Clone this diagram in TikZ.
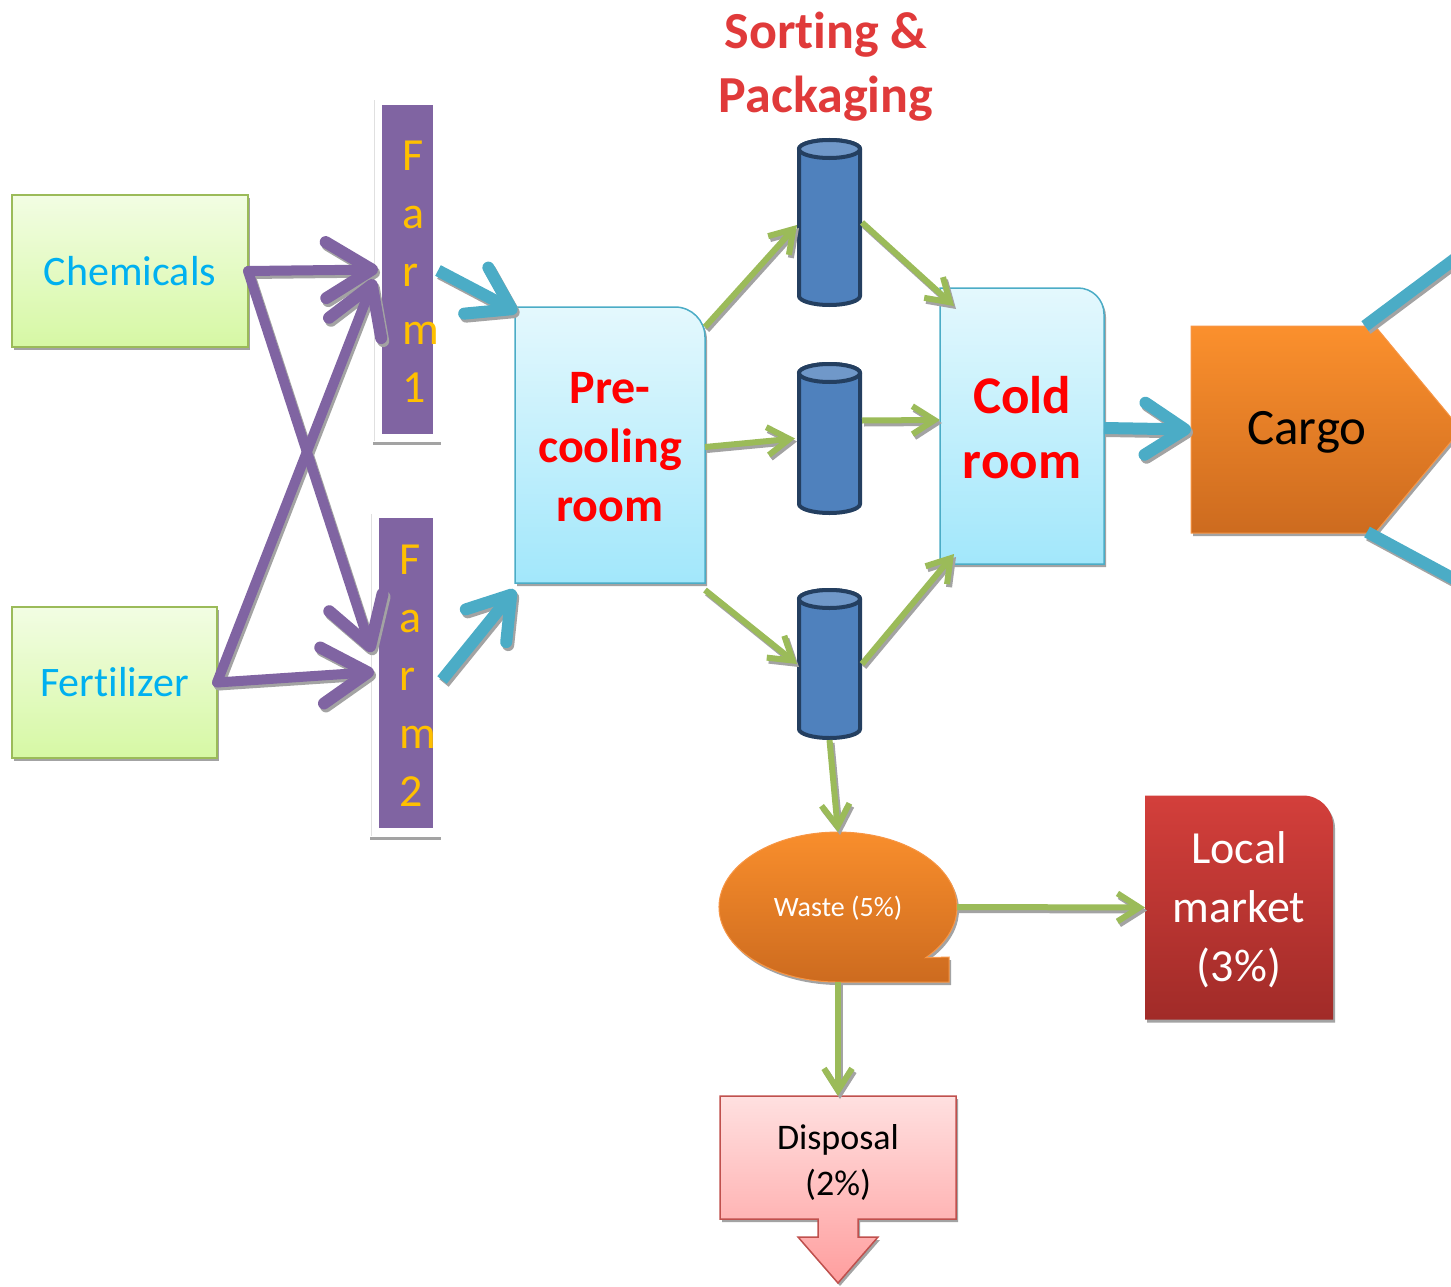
\documentclass[tikz,border=0pt]{standalone}
\usepackage{fontspec}
\setmainfont{Carlito}[Ligatures=NoCommon]
\usetikzlibrary{arrows.meta,shapes.geometric,shadows,calc}

\definecolor{purp}{HTML}{8064A2}
\definecolor{tealc}{HTML}{4BACC6}
\definecolor{grn}{HTML}{9BBB59}
\definecolor{cyantext}{HTML}{00B0F0}
\definecolor{gold}{HTML}{FFC000}
\definecolor{cylfill}{HTML}{4F81BD}
\definecolor{cyltop}{HTML}{7098C9}
\definecolor{cyledge}{HTML}{243F60}
\definecolor{shadowgray}{HTML}{A3A3A3}
\definecolor{titlered}{HTML}{E03A3A}
\definecolor{greentop}{HTML}{F2FDE3}
\definecolor{greenbot}{HTML}{D6F8A4}
\definecolor{icetop}{HTML}{E4F8FD}
\definecolor{icebot}{HTML}{A2E7FB}
\definecolor{orangetop}{HTML}{FB902D}
\definecolor{orangebot}{HTML}{CD6B1F}
\definecolor{orangeedge}{HTML}{F79646}
\definecolor{redtop}{HTML}{D33F3B}
\definecolor{redbot}{HTML}{A12B28}
\definecolor{pinktop}{HTML}{FFE0E0}
\definecolor{pinkbot}{HTML}{FF9E9E}
\definecolor{rededge}{HTML}{C0504D}

\tikzset{
  boxshadow/.style={drop shadow={shadow xshift=2pt,shadow yshift=-3pt,fill=shadowgray,opacity=1}},
  shadowcopy/.style={draw=shadowgray,transform canvas={shift={(2pt,-3pt)}}},
  purplearrow/.style={draw=purp,line width=10pt,line cap=round,
    -{Straight Barb[length=46pt,width=56pt,line width=12pt,round]}},
  tealarrow/.style={draw=tealc,line width=12pt,
    -{Straight Barb[length=40pt,width=52pt,line width=12pt,round]}},
  tealline/.style={draw=tealc,line width=12pt},
  greenarrow/.style={draw=grn,line width=6pt,
    -{Straight Barb[length=22pt,width=28pt,line width=6pt]}},
  area/.style={inner sep=0pt,outer sep=0pt,draw=none},
  cylpart/.style={draw=cyledge,line width=4pt},
}

% body and lid of a storage cylinder drawn inside node #1
\newcommand\cylbody[1]{%
  \draw[cylpart,fill=cylfill]
    ($(#1.north west)+(2pt,-11pt)$) -- ($(#1.south west)+(2pt,11pt)$)
    arc[start angle=180,end angle=360,x radius=30.5pt,y radius=9pt]
    -- ($(#1.north east)+(-2pt,-11pt)$)
    arc[start angle=0,end angle=180,x radius=30.5pt,y radius=9pt] -- cycle;
  \draw[cylpart,fill=cyltop] ($(#1.north)+(0pt,-11pt)$)
    ellipse[x radius=30.5pt,y radius=9pt];
}

% every connector; #1 is added to each, so the set can be drawn once as shadow
\newcommand\connectors[1]{%
  \draw[purplearrow,#1] (chem.east) -- ([shift={(-7pt,21pt)}]farm2.west);
  \draw[purplearrow,#1] (fert.east) -- ([shift={(-8pt,-10pt)}]farm1.west);
  \draw[purplearrow,#1] (chem.east) -- ([xshift=-4pt]farm1.west);
  \draw[purplearrow,#1] (fert.east) -- ([shift={(-5pt,1pt)}]farm2.west);
  \draw[tealarrow,#1] ([shift={(5pt,-1pt)}]farm1.east) -- ([shift={(2pt,-5pt)}]pre.north west);
  \draw[tealarrow,#1] ([shift={(9pt,-7pt)}]farm2.east) -- ([yshift=-7pt]pre.south west);
  \draw[tealarrow,#1] ([yshift=-2pt]cold.east) -- (cargo.west);
  \draw[tealline,#1] ([xshift=-58pt]cargo.north east) -- (upout);
  \draw[tealline,#1] ([xshift=-56pt,yshift=1pt]cargo.south east) -- (downout);
  \draw[greenarrow,#1] ([yshift=-20pt]pre.north east) -- ([yshift=-2.5pt]cyl1.west);
  \draw[greenarrow,#1] ([yshift=-2pt]pre.east) -- ([xshift=-2pt]cyl2.west);
  \draw[greenarrow,#1] ([yshift=-7pt]pre.south east) -- (cyl3.west);
  \draw[greenarrow,#1] (cyl1.east) -- ([shift={(14pt,-18pt)}]cold.north west);
  \draw[greenarrow,#1] ([yshift=18pt]cyl2.east) -- ([yshift=6pt]cold.west);
  \draw[greenarrow,#1] (cyl3.east) -- ([shift={(14pt,10pt)}]cold.south west);
  \draw[greenarrow,#1] (cyl3.south) -- (waste.north);
  \draw[greenarrow,#1] (waste.east) -- (local.west);
  \draw[greenarrow,#1] (waste.south) -- (disp.north);
}

\begin{document}
\begin{tikzpicture}[x=1pt,y=1pt]
\useasboundingbox (0,0) rectangle (1451,-1287);
\clip (0,0) rectangle (1451,-1287);

% ---------- inputs ----------
\node[area,draw=grn,line width=1.5pt,top color=greentop,bottom color=greenbot,boxshadow,
  minimum width=236pt,minimum height=152pt,text=cyantext,font=\fontsize{42}{50}\selectfont]
  (chem) at (130,-271) {Chemicals};
\node[area,draw=grn,line width=1.5pt,top color=greentop,bottom color=greenbot,boxshadow,
  minimum width=205pt,minimum height=151pt,text=cyantext,font=\fontsize{42}{50}\selectfont]
  (fert) at (114.5,-682.5) {Fertilizer};

% ---------- farms ----------
\draw[black!12,line width=1pt] (374,-100) -- (374,-441);
\draw[shadowgray,line width=3pt] (373,-443) -- (441,-443);
\draw[black!12,line width=1pt] (371,-514) -- (371,-836);
\draw[shadowgray,line width=3pt] (370,-838) -- (441,-838);

\node[area,fill=purp,minimum width=51pt,minimum height=329pt] (farm1) at (407.5,-269.5) {};
\node[area,fill=purp,minimum width=54pt,minimum height=310pt] (farm2) at (406,-673) {};
\node[inner sep=0pt,anchor=west,align=left,text=gold,font=\fontsize{46}{58}\selectfont]
  (farm1txt) at (402,-272) {F\\a\\r\\m\\1};
\node[inner sep=0pt,anchor=west,align=left,text=gold,font=\fontsize{46}{58}\selectfont]
  (farm2txt) at (399,-676) {F\\a\\r\\m\\2};

% ---------- rooms ----------
\node[area,minimum width=190pt,minimum height=276pt] (pre) at (610,-445) {};
\path[draw=tealc,line width=1.5pt,top color=icetop,bottom color=icebot,boxshadow]
  (pre.south west) -- (pre.north west) -- ([xshift=-30pt]pre.north east)
  arc[start angle=90,end angle=0,radius=30pt] -- (pre.south east) -- cycle;
\node[align=center,text=red,font=\bfseries\fontsize{48}{59}\selectfont]
  (pretxt) at (610,-447) {Pre-\\cooling\\room};

\node[area,minimum width=164pt,minimum height=276pt] (cold) at (1022,-426) {};
\path[draw=tealc,line width=1.5pt,top color=icetop,bottom color=icebot,boxshadow]
  (cold.south west) -- (cold.north west) -- ([xshift=-26pt]cold.north east)
  arc[start angle=90,end angle=0,radius=26pt] -- (cold.south east) -- cycle;
\node[align=center,text=red,font=\bfseries\fontsize{53}{65}\selectfont]
  (coldtxt) at (1022,-428) {Cold\\room};

% ---------- sorting & packaging ----------
\node[align=center,text=titlered,font=\bfseries\fontsize{52}{64}\selectfont]
  (sorttitle) at (826,-67) {Sort\kern0pt ing \&\\Packaging};
\node[area,minimum width=65pt,minimum height=169pt] (cyl1) at (829.5,-222.5) {};
\node[area,minimum width=65pt,minimum height=153pt] (cyl2) at (829.5,-438.5) {};
\node[area,minimum width=65pt,minimum height=152pt] (cyl3) at (829.5,-664) {};
\cylbody{cyl1}
\cylbody{cyl2}
\cylbody{cyl3}

% ---------- cargo ----------
\node[area,minimum width=232pt,minimum height=207pt] (cargo) at (1307,-429.5) {};
\path[draw=orangeedge,line width=1pt,top color=orangetop,bottom color=orangebot,boxshadow]
  (cargo.south west) -- (cargo.north west) -- ([xshift=-48pt]cargo.north east)
  -- ($(cargo.east)+(38pt,0pt)$) -- ([xshift=-48pt]cargo.south east) -- cycle;
\node[font=\fontsize{51}{60}\selectfont] (cargotxt) at (1307,-432) {Cargo};
\coordinate (upout) at (1480,-240);
\coordinate (downout) at (1480,-593);

% ---------- waste branch ----------
\node[ellipse,area,minimum width=238pt,minimum height=150pt] (waste) at (838,-907) {};
\path[draw=orangeedge,line width=1pt,top color=orangetop,bottom color=orangebot,boxshadow]
  (925.7,-957.7) arc[start angle=-42.5,end angle=270,x radius=119pt,y radius=75pt]
  -- (949,-982) -- (949,-957) -- cycle;
\node[text=white,font=\fontsize{28}{34}\selectfont] (wastetxt) at (838,-908) {Waste (5\%)};

\node[area,minimum width=188pt,minimum height=224pt] (local) at (1239,-907.5) {};
\path[top color=redtop,bottom color=redbot,boxshadow]
  (local.south west) -- (local.north west) -- ([xshift=-30pt]local.north east)
  arc[start angle=90,end angle=0,radius=30pt] -- (local.south east) -- cycle;
\node[align=center,text=white,font=\fontsize{46}{59}\selectfont]
  (localtxt) at (1239,-910) {Local\\market\\(3\%)};

\node[area,minimum width=236pt,minimum height=123pt] (disp) at (838,-1157.5) {};
\path[draw=rededge,line width=1.5pt,top color=pinktop,bottom color=pinkbot,boxshadow]
  (disp.south west) -- (disp.north west) -- (disp.north east) -- (disp.south east)
  -- ($(disp.south)+(20pt,0pt)$) -- ($(disp.south)+(20pt,-18pt)$)
  -- ($(disp.south)+(40pt,-18pt)$) -- ($(disp.south)+(0pt,-64pt)$)
  -- ($(disp.south)+(-40pt,-18pt)$) -- ($(disp.south)+(-20pt,-18pt)$)
  -- ($(disp.south)+(-20pt,0pt)$) -- cycle;
\node[align=center,font=\fontsize{36}{46}\selectfont] (disptxt) at (838,-1162) {Disposal\\(2\%)};

% ---------- connectors: shadows first, then the lines themselves ----------
\connectors{shadowcopy}
\connectors{}
\end{tikzpicture}
\end{document}
